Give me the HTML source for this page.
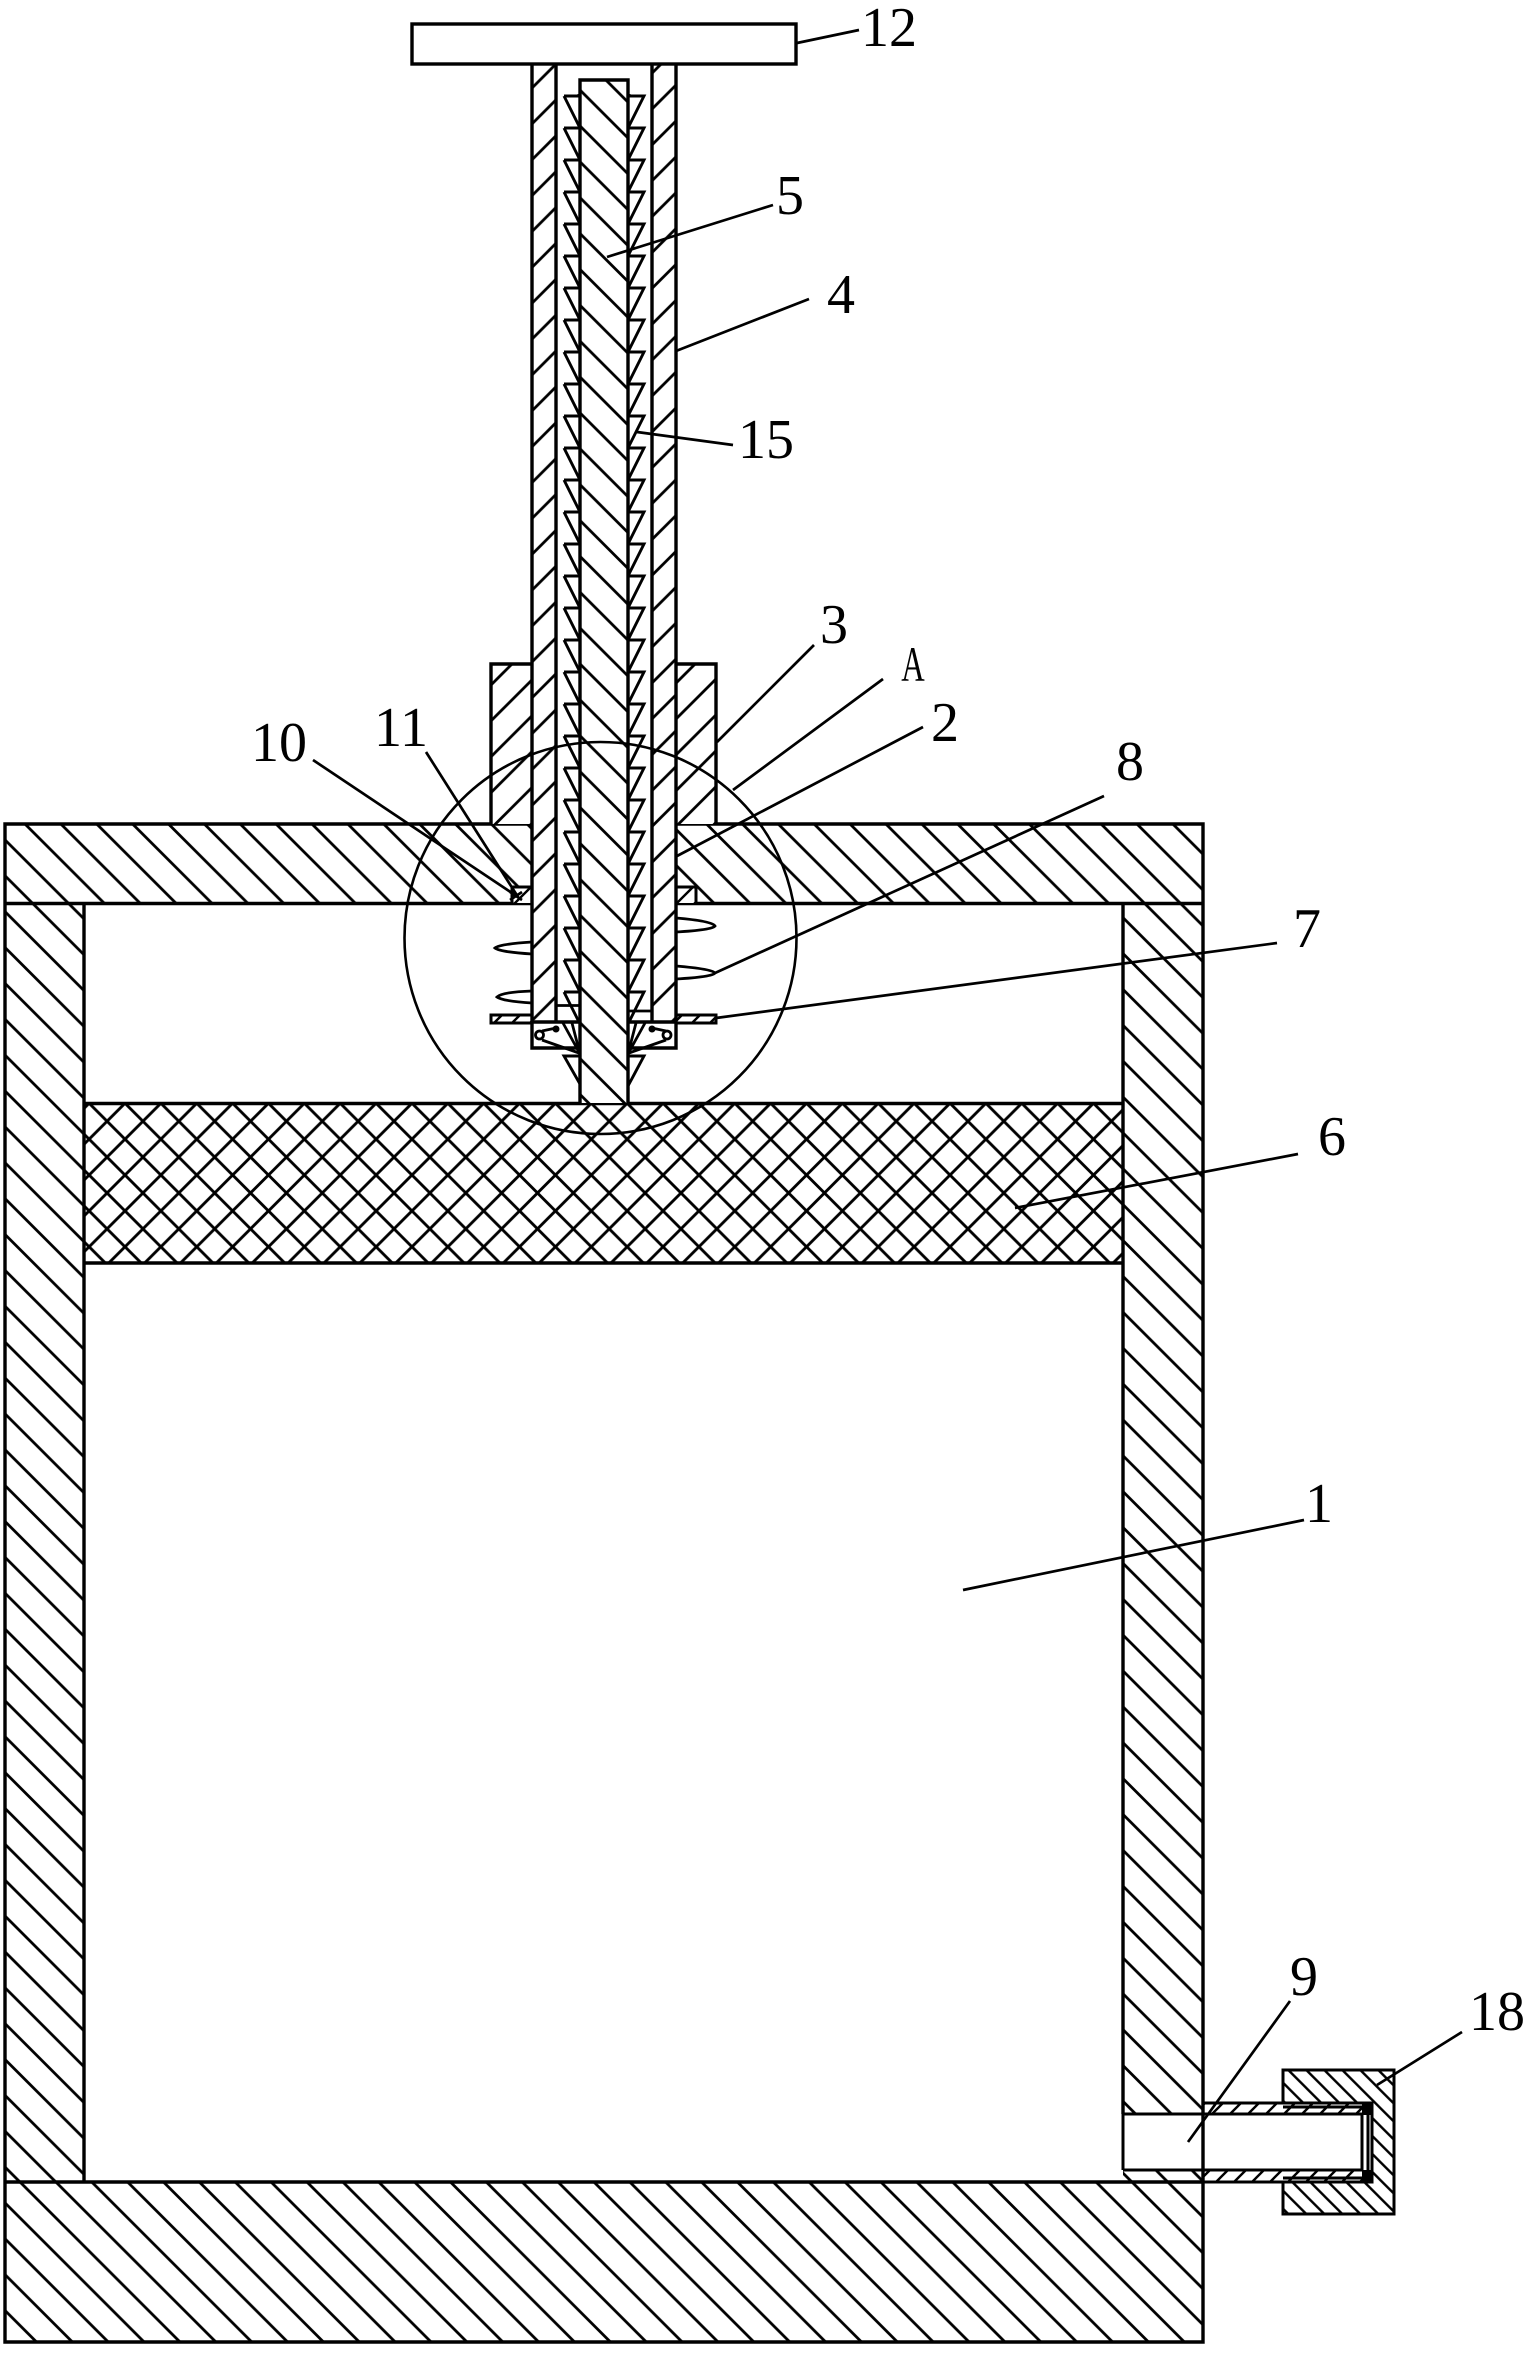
<!DOCTYPE html>
<html>
<head>
<meta charset="utf-8">
<style>
html,body{margin:0;padding:0;background:#fff;}
svg{display:block;}
text{font-family:"Liberation Serif",serif;font-size:56px;fill:#000;text-anchor:middle;}
</style>
</head>
<body>
<svg width="1526" height="2353" viewBox="0 0 1526 2353" xmlns="http://www.w3.org/2000/svg">
<defs>
<pattern id="b1" patternUnits="userSpaceOnUse" width="35.87" height="35.87" x="-799" y="0"><path d="M-2-2L37.87 37.87M33.87-2L37.87 2M-2 33.87L2 37.87" stroke="#000" stroke-width="2.8"/></pattern>
<pattern id="b2" patternUnits="userSpaceOnUse" width="35.87" height="35.87" x="-2162" y="0"><path d="M-2-2L37.87 37.87M33.87-2L37.87 2M-2 33.87L2 37.87" stroke="#000" stroke-width="2.8"/></pattern>
<pattern id="rod" patternUnits="userSpaceOnUse" width="35.87" height="35.87" x="203" y="0"><path d="M-2-2L37.87 37.87M33.87-2L37.87 2M-2 33.87L2 37.87" stroke="#000" stroke-width="2.8"/></pattern>
<pattern id="f1" patternUnits="userSpaceOnUse" width="35.87" height="35.87" x="620" y="0"><path d="M37.87-2L-2 37.87M2-2L-2 2M37.87 33.87L33.87 37.87" stroke="#000" stroke-width="2.8"/></pattern>
<pattern id="f1r" patternUnits="userSpaceOnUse" width="35.87" height="35.87" x="1048" y="0"><path d="M37.87-2L-2 37.87M2-2L-2 2M37.87 33.87L33.87 37.87" stroke="#000" stroke-width="2.8"/></pattern>
<pattern id="f2" patternUnits="userSpaceOnUse" width="35.87" height="35.87" x="1176" y="0"><path d="M37.87-2L-2 37.87M2-2L-2 2M37.87 33.87L33.87 37.87" stroke="#000" stroke-width="2.8"/></pattern>
<pattern id="f3" patternUnits="userSpaceOnUse" width="35.87" height="35.87" x="1395" y="0"><path d="M37.87-2L-2 37.87M2-2L-2 2M37.87 33.87L33.87 37.87" stroke="#000" stroke-width="2.8"/></pattern>
<pattern id="x1" patternUnits="userSpaceOnUse" width="35.87" height="35.87" x="125" y="1103.3"><path d="M-2-2L37.87 37.87M37.87-2L-2 37.87M33.87-2L37.87 2M-2 33.87L2 37.87M2-2L-2 2M37.87 33.87L33.87 37.87" stroke="#000" stroke-width="2.9"/></pattern>
<pattern id="s1" patternUnits="userSpaceOnUse" width="18" height="18" x="14" y="0"><path d="M20-2L-2 20M2-2L-2 2M20 16L16 20" stroke="#000" stroke-width="2.4"/></pattern>
<pattern id="s3" patternUnits="userSpaceOnUse" width="18" height="18" x="5" y="0"><path d="M20-2L-2 20M2-2L-2 2M20 16L16 20" stroke="#000" stroke-width="2.4"/></pattern>
<pattern id="s2" patternUnits="userSpaceOnUse" width="18" height="18" x="10.3" y="0"><path d="M-2-2L20 20M16-2L20 2M-2 16L2 20" stroke="#000" stroke-width="2.4"/></pattern>
<pattern id="teeth" patternUnits="userSpaceOnUse" width="100" height="32" x="560" y="94"><path d="M4 2H20M4 2L20 34M4-30L20 2M68 2H84L68 34M84-30L68 2" fill="none" stroke="#000" stroke-width="2.9"/></pattern>
</defs>
<rect width="1526" height="2353" fill="#fff"/>

<!-- housing -->
<rect x="5" y="824" width="1198" height="80" fill="url(#b1)"/>
<rect x="5" y="904" width="79" height="1278" fill="url(#b1)"/>
<rect x="1123" y="904" width="80" height="1210" fill="url(#b1)"/>
<rect x="1123" y="2170" width="80" height="12" fill="url(#b1)"/>
<rect x="5" y="2182" width="1198" height="160" fill="url(#b2)"/>
<rect x="84" y="1103" width="1039" height="160" fill="url(#x1)"/>
<path d="M5 824H1203V2342H5ZM5 903.5H1203M84 903.5V2182M1123 903.5V2114M5 2182H1203M84 1103.5H1123M84 1263H1123" fill="none" stroke="#000" stroke-width="3.4"/>

<!-- collar -->
<rect x="491" y="664" width="225" height="160" fill="#fff"/>
<rect x="491" y="664" width="41" height="160" fill="url(#f2)"/>
<rect x="676" y="664" width="40" height="160" fill="url(#f3)"/>
<path d="M491 824V664H716V824" fill="none" stroke="#000" stroke-width="3.4"/>

<!-- small blocks -->
<rect x="512" y="887" width="20" height="16" fill="#fff"/>
<rect x="676" y="887" width="20" height="16" fill="#fff"/>
<rect x="512" y="887" width="20" height="16" fill="url(#s1)"/>
<rect x="676" y="887" width="20" height="16" fill="url(#s1)"/>
<path d="M532 887H512V903.5M676 887H696V903.5" fill="none" stroke="#000" stroke-width="3"/>

<!-- fins -->
<path d="M532 942Q500 944 495 948Q500 952 532 954M532 991Q502 992 497 997Q502 1001 532 1003M676 918Q712 921 715 926Q712 930 676 932M676 966Q712 969 715 973Q712 977 676 979" fill="#fff" stroke="#000" stroke-width="2.8"/>

<!-- flange -->
<rect x="491" y="1015" width="41" height="8" fill="#fff"/>
<rect x="676" y="1015" width="40" height="8" fill="#fff"/>
<rect x="491" y="1015" width="41" height="8" fill="url(#s3)"/>
<rect x="676" y="1015" width="40" height="8" fill="url(#s3)"/>
<path d="M532 1015H491V1023H532M676 1015H716V1023H676" fill="none" stroke="#000" stroke-width="3"/>

<!-- shaft -->
<rect x="532" y="64" width="144" height="958" fill="#fff"/>
<rect x="532" y="64" width="24" height="958" fill="url(#f1)"/>
<rect x="652" y="64" width="24" height="958" fill="url(#f1r)"/>
<path d="M532 64V1048H676V64M556 64V1023M652 64V1023M532 1022H580M628 1022H676" fill="none" stroke="#000" stroke-width="3.4"/>

<!-- teeth -->
<rect x="560" y="94" width="88" height="928" fill="url(#teeth)"/>
<path d="M564 1056H580V1084ZM628 1056H644L628 1086Z" fill="#fff" stroke="#000" stroke-width="2.9"/>

<!-- lower mechanism -->
<rect x="534" y="1024" width="45" height="22" fill="#fff"/>
<rect x="629" y="1024" width="45" height="22" fill="#fff"/>
<path d="M532 1024V1048H562M676 1024V1048H646" fill="none" stroke="#000" stroke-width="3"/>
<path d="M556 1005.5H579M628 1011H652M542 1031L556 1028M542 1040L579 1053M563 1023L579 1052M572 1023L579 1050M666 1031L652 1028M666 1040L629 1053M645 1023L629 1052M636 1023L629 1050" fill="none" stroke="#000" stroke-width="2.8"/>
<circle cx="539.5" cy="1035" r="4" fill="#fff" stroke="#000" stroke-width="2.8"/>
<circle cx="667" cy="1035" r="4" fill="#fff" stroke="#000" stroke-width="2.8"/>
<circle cx="556" cy="1029" r="3.5" fill="#000"/>
<circle cx="652" cy="1029" r="3.5" fill="#000"/>

<!-- rod -->
<rect x="580" y="80" width="48" height="1023" fill="#fff"/>
<rect x="580" y="80" width="48" height="1023" fill="url(#rod)"/>
<path d="M580 1103V80H628V1103" fill="none" stroke="#000" stroke-width="3.4"/>

<!-- handle -->
<rect x="412" y="24" width="384" height="40" fill="#fff" stroke="#000" stroke-width="3.4"/>

<!-- side pipe -->
<rect x="1203" y="2103" width="165" height="11" fill="url(#s1)"/>
<rect x="1203" y="2170" width="165" height="12" fill="url(#s1)"/>
<path d="M1283 2070H1394V2214H1283V2182H1372V2103H1283Z" fill="url(#s2)"/>
<path d="M1283 2070H1394V2214H1283V2182H1372V2103H1283Z" fill="none" stroke="#000" stroke-width="3"/>
<path d="M1203 2103H1372M1123 2114H1362V2170H1123M1203 2182H1372M1123 2114V2170M1368 2114V2170M1283 2107H1362M1283 2178H1362" fill="none" stroke="#000" stroke-width="3"/>
<rect x="1362" y="2103" width="10" height="12" fill="#000"/>
<rect x="1362" y="2170" width="10" height="12" fill="#000"/>

<!-- detail circle -->
<circle cx="600.5" cy="938" r="196" fill="none" stroke="#000" stroke-width="2.6"/>

<!-- leaders -->
<g fill="none" stroke="#000" stroke-width="2.7">
<path d="M797 43L859 30"/>
<path d="M607 257L773 205"/>
<path d="M676 351L809 299"/>
<path d="M637 432L733 445"/>
<path d="M717 742L814 645"/>
<path d="M733 790L883 679"/>
<path d="M677 856L923 727"/>
<path d="M715 973L1104 796"/>
<path d="M716 1018L1277 943"/>
<path d="M1015 1208L1298 1154"/>
<path d="M963 1590L1304 1520"/>
<path d="M1188 2142L1290 2001"/>
<path d="M1377 2085L1462 2032"/>
<path d="M313 760L515 895"/>
<path d="M426 752L518 897"/>
<path d="M510 892L522 900M522 892L510 900"/>
</g>

<!-- labels -->
<text x="889" y="46">12</text>
<text x="790" y="214">5</text>
<text x="841" y="313">4</text>
<text x="766" y="458">15</text>
<text x="834" y="643">3</text>
<text transform="translate(913 681) scale(0.65 1)" style="font-size:50px">A</text>
<text x="945" y="741">2</text>
<text x="1130" y="780">8</text>
<text x="1307" y="947">7</text>
<text x="1332" y="1155">6</text>
<text x="1319" y="1522">1</text>
<text x="1304" y="1995">9</text>
<text x="1497" y="2030">18</text>
<text x="279" y="761">10</text>
<text x="401" y="746">11</text>
</svg>
</body>
</html>
